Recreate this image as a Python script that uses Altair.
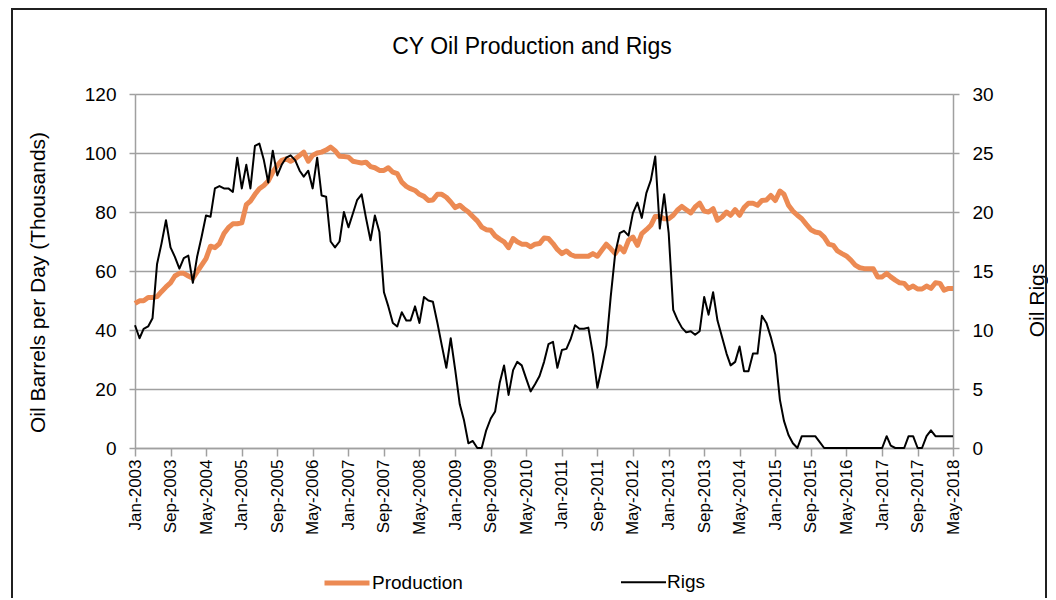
import altair as alt
import pandas as pd

# ---- data (monthly, Jan-2003 .. May-2018) ----
start_month = "2003-01-01"
n_months = 185

production = [
    49, 49.9, 49.9, 51, 51, 51.3, 53, 54.6, 56, 58.3, 59.2, 59.2, 58.3, 57.5, 59.7, 62, 64.2, 68.4, 67.9, 69.3, 72.7, 74.7, 76, 76, 76.3, 82.5,
    83.7, 86, 87.9, 89, 90.5, 93.5, 95.8, 97.5, 98, 97.2, 98, 99.2, 100.3, 97.2, 99.2, 100, 100.3, 101, 102, 100.8, 98.9, 98.8, 98.6, 97.2, 96.9, 96.6,
    96.9, 95.4, 95, 94.1, 94.1, 95, 93.5, 93, 90.1, 88.7, 87.9, 87.3, 86, 85.3, 83.9, 84.1, 86, 86, 85, 83.4, 81.5, 82.3, 81.1, 80, 78.5, 77,
    74.9, 74, 73.8, 71.9, 70.8, 69.9, 67.9, 71, 69.9, 69.1, 69.1, 68.2, 69.1, 69.3, 71.2, 71, 69.3, 67.3, 65.9, 66.8, 65.6, 65, 65, 65, 65, 65.9,
    65, 67, 69.1, 67.6, 65.9, 68.2, 66.5, 70.4, 71.5, 68.7, 72.7, 74, 75.5, 78.5, 78.5, 77.7, 77.7, 78.9, 80.6, 81.9, 80.8, 79.7, 81.7, 83, 80.3, 80,
    81.1, 77.2, 78.3, 80, 78.9, 80.8, 78.9, 81.5, 83, 83, 82.3, 83.9, 84.1, 85.6, 83.9, 87.1, 86, 82.3, 80.3, 78.9, 77.7, 75.8, 74, 73.2, 72.9, 71.5,
    69.1, 68.7, 66.8, 65.9, 65.1, 63.7, 62, 61.1, 60.8, 60.8, 60.8, 58, 58, 59.2, 58, 56.9, 56, 55.8, 54.1, 54.9, 53.9, 53.9, 54.9, 54.1, 56, 55.8, 53.5, 54.1, 54.1,
]

rigs = [
    10.4, 9.3, 10.1, 10.3, 11, 15.6, 17.3, 19.3, 17, 16.2, 15.2, 16.1, 16.3, 14, 16.2, 17.9, 19.7, 19.6, 22, 22.2, 22, 22, 21.7, 24.6, 22, 24,
    22, 25.6, 25.8, 24.4, 22.5, 25.2, 23.1, 24, 24.6, 24.8, 24.4, 23.5, 23, 23.5, 22, 24.6, 21.4, 21.3, 17.5, 17, 17.5, 20, 18.7, 19.9, 21, 21.5,
    19.5, 17.6, 19.7, 18.3, 13.2, 12, 10.6, 10.3, 11.5, 10.8, 10.8, 12, 10.6, 12.8, 12.5, 12.4, 10.6, 8.7, 6.8, 9.3, 6.6, 3.7, 2.4, 0.4, 0.6, 0,
    0, 1.5, 2.5, 3.1, 5.5, 7, 4.5, 6.6, 7.3, 7, 5.9, 4.8, 5.4, 6.1, 7.3, 8.8, 9, 6.8, 8.3, 8.4, 9.2, 10.4, 10.1, 10.1, 10.2, 8.0,
    5.1, 6.8, 8.7, 12.8, 16.5, 18.2, 18.4, 18, 19.9, 20.8, 19.5, 21.6, 22.7, 24.7, 18.6, 21.5, 18.2, 11.7, 10.9, 10.2, 9.8, 9.9, 9.6, 9.9, 12.8, 11.3,
    13.2, 10.8, 9.4, 8, 7, 7.3, 8.6, 6.5, 6.5, 8, 8, 11.2, 10.6, 9.4, 7.9, 4.1, 2.3, 1.1, 0.4, 0, 1, 1, 1, 1, 0.5, 0,
    0, 0, 0, 0, 0, 0, 0, 0, 0, 0, 0, 0, 0, 1, 0.2, 0, 0, 0, 1, 1, 0, 0, 1, 1.5, 1, 1, 1, 1, 1,
]

tick_labels = [
    "Jan-2003", "Sep-2003", "May-2004", "Jan-2005", "Sep-2005", "May-2006", "Jan-2007", "Sep-2007",
    "May-2008", "Jan-2009", "Sep-2009", "May-2010", "Jan-2011", "Sep-2011", "May-2012", "Jan-2013",
    "Sep-2013", "May-2014", "Jan-2015", "Sep-2015", "May-2016", "Jan-2017", "Sep-2017", "May-2018",
]

series_names = ["Production", "Rigs"]
series_colors = ["#EC8A53", "#000000"]
series_widths = [5, 2]

left_ticks = [0, 20, 40, 60, 80, 100, 120]
right_ticks = [0, 5, 10, 15, 20, 25, 30]

# ---- build table ----
dates = pd.date_range(start_month, periods=n_months, freq="MS")
df = pd.DataFrame({"date": dates, "Production": production, "Rigs": rigs})

tick_dates = [pd.to_datetime("01-" + t, format="%d-%b-%Y") for t in tick_labels]
tick_values = [alt.DateTime(year=d.year, month=d.month, date=1) for d in tick_dates]

FONT = "Liberation Sans"
GRAY = "#A0A0A0"

x_enc = alt.X(
    "date:T",
    scale=alt.Scale(domain=[tick_values[0], tick_values[-1]], nice=False),
    axis=alt.Axis(
        values=tick_values, format="%b-%Y", labelAngle=270, labelAlign="right",
        labelBaseline="middle", labelFontSize=17, labelFont=FONT, labelColor="black",
        tickSize=8, tickColor=GRAY, tickWidth=1.5, domainColor=GRAY, domainWidth=1.5,
        labelPadding=3, grid=False, title=None, labelOverlap=False, labelFlush=False,
    ),
)

legend_opts = dict(
    title=None, orient="none", legendX=187, legendY=464, direction="horizontal",
    symbolType="stroke", symbolSize=2025, labelFontSize=19, labelFont=FONT,
    labelColor="black", labelOffset=0, columnPadding=154, padding=0,
)

color_enc = alt.Color(
    "series:N",
    scale=alt.Scale(domain=series_names, range=series_colors),
    legend=alt.Legend(**legend_opts),
)
width_enc = alt.StrokeWidth(
    "series:N",
    scale=alt.Scale(domain=series_names, range=series_widths),
    legend=alt.Legend(**legend_opts),
)

prod_line = (
    alt.Chart(df)
    .transform_fold(["Production"], as_=["series", "value"])
    .mark_line(strokeJoin="round")
    .encode(
        x=x_enc,
        y=alt.Y(
            "value:Q",
            scale=alt.Scale(domain=[0, 120], nice=False),
            axis=alt.Axis(
                orient="left", values=left_ticks, grid=True, gridColor=GRAY, gridWidth=1.5,
                domainColor=GRAY, domainWidth=1.5, tickColor=GRAY, tickWidth=1.5, tickSize=6,
                labelPadding=13, labelFontSize=19, labelFont=FONT, labelColor="black",
                title="Oil Barrels per Day (Thousands)", titleFontSize=21, titleFont=FONT,
                titleFontWeight="normal", titleColor="black", titleAngle=270,
                titleX=-97, titleY=188, titleAlign="center", titleBaseline="middle",
            ),
        ),
        color=color_enc,
        strokeWidth=width_enc,
    )
)

rigs_line = (
    alt.Chart(df)
    .transform_fold(["Rigs"], as_=["series", "value"])
    .mark_line(strokeJoin="round")
    .encode(
        x=x_enc,
        y=alt.Y(
            "value:Q",
            scale=alt.Scale(domain=[0, 30], nice=False),
            axis=alt.Axis(
                orient="right", values=right_ticks, grid=False,
                domainColor=GRAY, domainWidth=1.5, tickColor=GRAY, tickWidth=1.5, tickSize=6,
                labelPadding=13, labelFontSize=19, labelFont=FONT, labelColor="black",
                title="Oil Rigs", titleFontSize=21, titleFont=FONT,
                titleFontWeight="normal", titleColor="black", titleAngle=270,
                titleX=84, titleY=206, titleAlign="center", titleBaseline="middle",
            ),
        ),
        color=color_enc,
        strokeWidth=width_enc,
    )
)

frame = alt.Chart(df).mark_rect(fill="transparent", stroke="#202020", strokeWidth=1.5).encode(
    x=alt.value(-123), x2=alt.value(911), y=alt.value(-85), y2=alt.value(520)
)

chart = (
    alt.layer(frame, prod_line, rigs_line)
    .resolve_scale(y="independent")
    .properties(
        width=818,
        height=354,
        title=alt.Title(
            "CY Oil Production and Rigs", fontSize=23, font=FONT, fontWeight="normal",
            color="black", dx=-12, offset=-69, baseline="alphabetic",
        ),
        autosize=alt.AutoSizeParams(type="none"),
        padding={"left": 127, "top": 86, "right": 95, "bottom": 150},
    )
    .configure_view(strokeWidth=0)
    .configure(background="white")
)

chart.save("out.html", embed_options={"renderer": "svg", "actions": False})
